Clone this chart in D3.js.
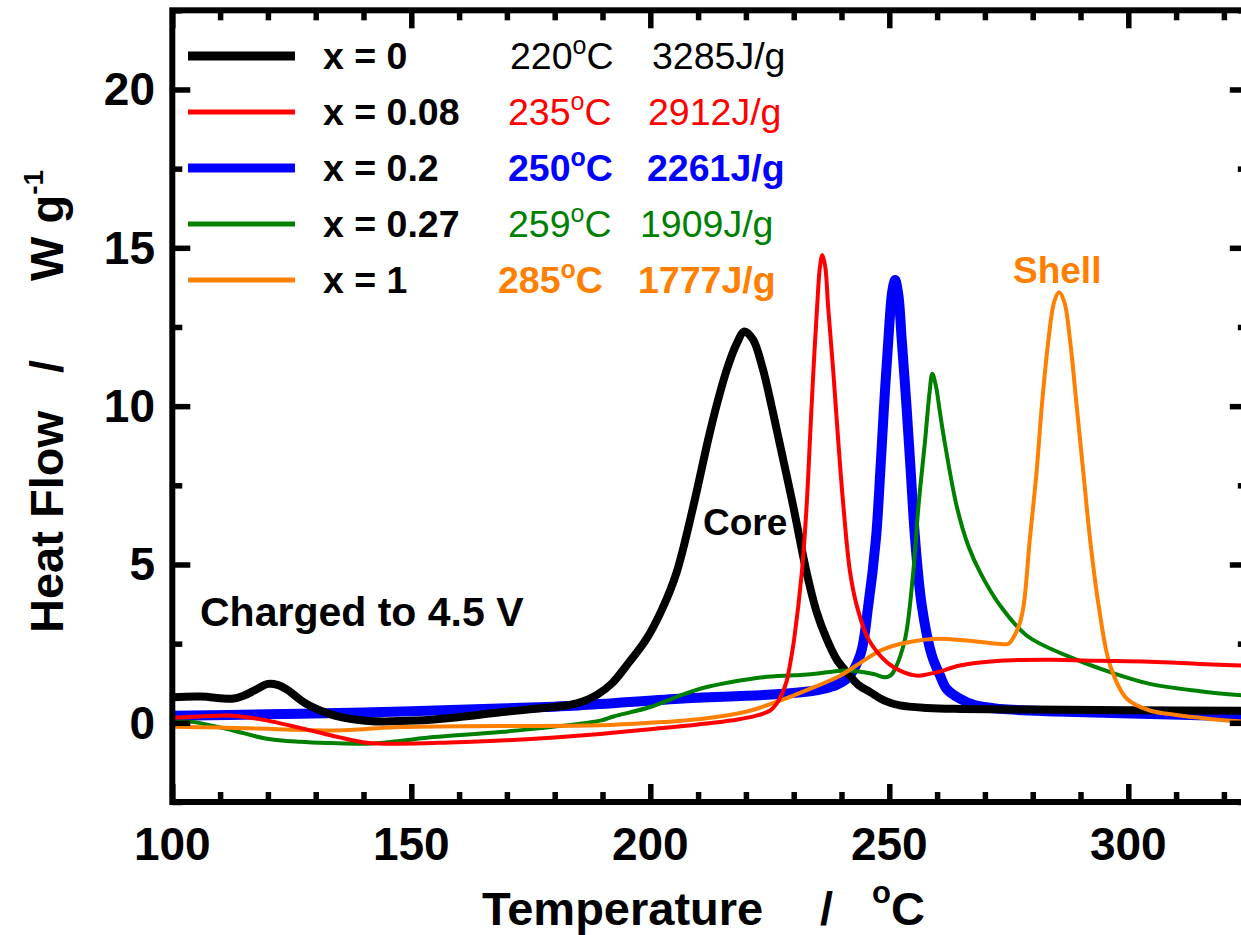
<!DOCTYPE html>
<html>
<head>
<meta charset="utf-8">
<script src="https://cdn.jsdelivr.net/npm/d3@7"></script>
<style>
  html, body { margin: 0; padding: 0; background: #fff; }
  svg { display: block; }
  text { font-family: "Liberation Sans", Arial, Helvetica, sans-serif; }
</style>
</head>
<body>
<svg id="chart" width="1241" height="935"></svg>
<script>
// ---------------- data ----------------
const xTicksMajor = [100, 150, 200, 250, 300];
const yTicksMajor = [0, 5, 10, 15, 20];

const seriesNames = ["x = 0", "x = 0.08", "x = 0.2", "x = 0.27", "x = 1"];
const peakTemps = ["220", "235", "250", "259", "285"];
const enthalpies = ["3285J/g", "2912J/g", "2261J/g", "1909J/g", "1777J/g"];

const blackT = [100, 106, 112.5, 115, 117.5, 120, 122, 124, 128, 134, 141, 151, 160, 169, 177, 183, 186, 189, 192, 195.5, 199.2, 202.5, 205.5, 209, 212.1, 214, 216, 218, 219.7, 221.5, 223.5, 225.3, 227.1, 229.9, 232.7, 234.8, 236.9, 239, 241.1, 243.5, 246, 249, 252.2, 258, 265, 280, 300, 325];
const blackHF = [0.81, 0.83, 0.76, 0.86, 1.05, 1.23, 1.2, 1.05, 0.6, 0.23, 0.06, 0.07, 0.18, 0.34, 0.46, 0.56, 0.68, 0.9, 1.25, 1.9, 2.65, 3.6, 4.75, 6.84, 8.94, 10.1, 11.15, 11.95, 12.36, 12.1, 11.2, 10.05, 8.8, 6.84, 4.75, 3.5, 2.65, 2.0, 1.6, 1.2, 0.97, 0.7, 0.55, 0.47, 0.44, 0.42, 0.4, 0.38];

const redT = [100, 106, 111.5, 116, 120, 125, 130.3, 135, 140.7, 147.6, 158, 168.6, 180, 189.5, 200, 210, 218, 222, 225, 226.4, 227.5, 228.5, 229.3, 230.1, 231.7, 232.7, 233.4, 234.1, 234.9, 235.5, 236.0, 236.6, 237.2, 238.3, 239.3, 240.4, 241.8, 243.2, 245.6, 249.5, 252.9, 256, 260, 264.8, 273.2, 283.6, 294.1, 304.5, 315, 325];
const redHF = [0.16, 0.2, 0.23, 0.17, 0.07, -0.1, -0.29, -0.46, -0.63, -0.66, -0.62, -0.56, -0.46, -0.35, -0.2, -0.05, 0.1, 0.22, 0.38, 0.6, 0.9, 1.3, 1.9, 2.65, 4.75, 6.84, 8.94, 11.05, 13.14, 14.4, 14.77, 14.4, 13.14, 11.05, 8.94, 6.84, 4.75, 3.7, 2.65, 1.91, 1.6, 1.49, 1.6, 1.81, 1.96, 1.99, 1.96, 1.93, 1.86, 1.8];

const blueT = [100, 120, 140, 155, 170, 185, 206, 227, 236.2, 241.1, 243.9, 245.6, 247.2, 248.1, 248.9, 249.8, 250.6, 251.2, 251.9, 252.6, 253.6, 254.5, 255.4, 256.8, 258.9, 260.6, 262, 264.8, 268, 273.2, 285, 304.5, 325];
const blueHF = [0.22, 0.27, 0.33, 0.39, 0.46, 0.55, 0.76, 0.91, 1.07, 1.39, 2.13, 3.7, 5.8, 7.9, 10.0, 12.09, 13.6, 13.98, 13.5, 12.09, 10.0, 7.9, 5.8, 3.7, 2.13, 1.5, 1.07, 0.76, 0.55, 0.44, 0.36, 0.28, 0.19];

const greenT = [100, 104, 108, 112.7, 119.8, 126.7, 133, 140.7, 147, 154.6, 168.6, 180, 189.5, 192.3, 200, 206.2, 211, 216.7, 223.6, 230, 234.1, 241.1, 246.7, 249.1, 250.3, 251.2, 253.3, 255.0, 256.1, 257.5, 258.4, 259.0, 259.8, 260.5, 261.5, 264.1, 266.5, 269.0, 273.2, 278.8, 287.1, 296.2, 304.5, 315, 325];
const greenHF = [0.03, 0.03, -0.08, -0.24, -0.5, -0.6, -0.64, -0.66, -0.58, -0.45, -0.29, -0.12, 0.07, 0.2, 0.5, 0.86, 1.1, 1.28, 1.44, 1.5, 1.54, 1.65, 1.54, 1.44, 1.5, 1.7, 2.65, 4.75, 6.84, 8.94, 10.4, 11.02, 10.6, 9.9, 8.94, 6.84, 5.6, 4.75, 3.7, 2.75, 2.12, 1.6, 1.23, 1.0, 0.85];

const orangeT = [100, 110, 119.8, 126, 133.7, 140, 147.6, 168.6, 189.5, 200, 211, 220, 227.1, 233, 239.7, 244, 248.1, 252.2, 259.2, 266.2, 273.2, 275, 276.0, 277.2, 278.1, 279.4, 280.8, 281.9, 283.3, 284.5, 285.5, 286.6, 287.8, 289.2, 290.6, 292.0, 293.8, 296.2, 299.7, 304.5, 310, 315, 320, 325];
const orangeHF = [-0.12, -0.15, -0.19, -0.22, -0.24, -0.2, -0.13, -0.1, -0.08, 0.0, 0.13, 0.35, 0.7, 1.05, 1.49, 1.9, 2.28, 2.49, 2.65, 2.6, 2.49, 2.5, 2.7, 3.1, 3.7, 5.8, 7.9, 10.0, 12.1, 13.3, 13.6, 13.3, 12.1, 10.0, 7.9, 5.8, 3.7, 1.81, 0.76, 0.39, 0.25, 0.16, 0.08, 0.03];

// ---------------- layout ----------------
const svg = d3.select("#chart");
const W = 1241, H = 935;
svg.append("rect").attr("width", W).attr("height", H).attr("fill", "#fff");

const pLeft = 172.3, pRight = 1247.8, pTop = 10.3, pBottom = 802;
const x = d3.scaleLinear().domain([100, 325]).range([pLeft, pRight]);
const y = d3.scaleLinear().domain([-2.5, 22.5]).range([pBottom, pTop]);

const colors = ["#000000", "#ff0000", "#0000ff", "#008000", "#ff8000"];
const widths = [8, 4, 10, 4, 4];
const series = [
  {T: blackT, V: blackHF},
  {T: redT, V: redHF},
  {T: blueT, V: blueHF},
  {T: greenT, V: greenHF},
  {T: orangeT, V: orangeHF}
];

svg.append("clipPath").attr("id", "clip")
  .append("rect").attr("x", pLeft).attr("y", pTop).attr("width", pRight - pLeft).attr("height", pBottom - pTop);

const line = d3.line().x(d => x(d[0])).y(d => y(d[1])).curve(d3.curveCatmullRom.alpha(0.5));
const drawOrder = [2, 0, 3, 4, 1];
const gLines = svg.append("g").attr("clip-path", "url(#clip)");
drawOrder.forEach(i => {
  const s = series[i];
  gLines.append("path")
    .datum(s.T.map((t, k) => [t, s.V[k]]))
    .attr("d", line)
    .attr("fill", "none")
    .attr("stroke", colors[i])
    .attr("stroke-width", widths[i])
    .attr("stroke-linejoin", "round")
    .attr("stroke-linecap", "butt");
});

// ---------------- axes ----------------
const xMinor = d3.range(100, 326, 10).filter(v => v % 50 !== 0);
const yMinor = d3.range(-2.5, 22.6, 2.5).filter(v => Math.abs(v % 5) > 0.01);
const MAJ = 18, MIN = 10;

function styleAxis(g) {
  g.select(".domain").remove();
  g.selectAll(".tick line").attr("stroke", "#000").attr("stroke-width", 5.5);
}

svg.append("g").attr("transform", `translate(0,${pBottom})`)
  .call(d3.axisBottom(x).tickValues(xTicksMajor).tickSize(-MAJ).tickFormat(""))
  .call(styleAxis);
svg.append("g").attr("transform", `translate(0,${pBottom})`)
  .call(d3.axisBottom(x).tickValues(xMinor).tickSize(-MIN).tickFormat(""))
  .call(styleAxis);
svg.append("g").attr("transform", `translate(0,${pTop})`)
  .call(d3.axisTop(x).tickValues(xTicksMajor).tickSize(-MAJ).tickFormat(""))
  .call(styleAxis);
svg.append("g").attr("transform", `translate(0,${pTop})`)
  .call(d3.axisTop(x).tickValues(xMinor).tickSize(-MIN).tickFormat(""))
  .call(styleAxis);
svg.append("g").attr("transform", `translate(${pLeft},0)`)
  .call(d3.axisLeft(y).tickValues(yTicksMajor).tickSize(-MAJ).tickFormat(""))
  .call(styleAxis);
svg.append("g").attr("transform", `translate(${pLeft},0)`)
  .call(d3.axisLeft(y).tickValues(yMinor).tickSize(-MIN).tickFormat(""))
  .call(styleAxis);
svg.append("g").attr("transform", `translate(${pRight},0)`)
  .call(d3.axisRight(y).tickValues(yTicksMajor).tickSize(-MAJ).tickFormat(""))
  .call(styleAxis);
svg.append("g").attr("transform", `translate(${pRight},0)`)
  .call(d3.axisRight(y).tickValues(yMinor).tickSize(-MIN).tickFormat(""))
  .call(styleAxis);

svg.append("rect").attr("x", pLeft).attr("y", pTop).attr("width", pRight - pLeft).attr("height", pBottom - pTop)
  .attr("fill", "none").attr("stroke", "#000").attr("stroke-width", 6);

svg.append("g").selectAll("text").data(xTicksMajor).join("text")
  .attr("x", d => x(d)).attr("y", 860)
  .attr("text-anchor", "middle").attr("font-size", 46).attr("font-weight", "bold")
  .text(d => d);
svg.append("g").selectAll("text").data(yTicksMajor).join("text")
  .attr("x", 155).attr("y", d => y(d) + 16)
  .attr("text-anchor", "end").attr("font-size", 46).attr("font-weight", "bold")
  .text(d => d);

const xt = svg.append("text").attr("y", 925).attr("font-size", 47).attr("font-weight", "bold");
xt.append("tspan").attr("x", 482).text("Temperature");
xt.append("tspan").attr("x", 820).text("/");
xt.append("tspan").attr("x", 872).attr("dy", -22).attr("font-size", 31).text("o");
xt.append("tspan").attr("x", 891).attr("dy", 22).text("C");

const yt = svg.append("text").attr("transform", "translate(63,633) rotate(-90)")
  .attr("font-size", 47).attr("font-weight", "bold");
yt.append("tspan").attr("x", 0).attr("y", 0).text("Heat Flow");
yt.append("tspan").attr("x", 260).text("/");
yt.append("tspan").attr("x", 352).text("W g");
yt.append("tspan").attr("dy", -20).attr("font-size", 28).text("-1");

// ---------------- legend ----------------
const legY0 = 56, legStep = 56;
const boldRow = [false, false, true, false, true];
const tempX = [510, 508, 508, 508, 498];
const enthX = [652, 648, 647, 640, 638];
const legFont = 37.5;
seriesNames.forEach((name, i) => {
  const ly = legY0 + i * legStep;
  svg.append("line").attr("x1", 188).attr("x2", 295).attr("y1", ly).attr("y2", ly)
    .attr("stroke", colors[i]).attr("stroke-width", (i === 0 || i === 2) ? 9 : 5);
  svg.append("text").attr("x", 323).attr("y", ly + 13)
    .attr("font-size", legFont).attr("font-weight", "bold").attr("fill", "#000").text(name);
  const t = svg.append("text").attr("x", tempX[i]).attr("y", ly + 13)
    .attr("font-size", legFont).attr("font-weight", boldRow[i] ? "bold" : "normal").attr("fill", colors[i]);
  t.append("tspan").text(peakTemps[i]);
  t.append("tspan").attr("dy", -15).attr("font-size", 25).text("o");
  t.append("tspan").attr("dy", 15).text("C");
  svg.append("text").attr("x", enthX[i]).attr("y", ly + 13)
    .attr("font-size", legFont).attr("font-weight", boldRow[i] ? "bold" : "normal").attr("fill", colors[i])
    .text(enthalpies[i]);
});

svg.append("text").attr("x", 703).attr("y", 535).attr("font-size", 37).attr("font-weight", "bold").text("Core");
svg.append("text").attr("x", 1013).attr("y", 283).attr("font-size", 37).attr("font-weight", "bold")
  .attr("fill", "#ff8000").text("Shell");
svg.append("text").attr("x", 200).attr("y", 626).attr("font-size", 41).attr("font-weight", "bold")
  .text("Charged to 4.5 V");
</script>
</body>
</html>
